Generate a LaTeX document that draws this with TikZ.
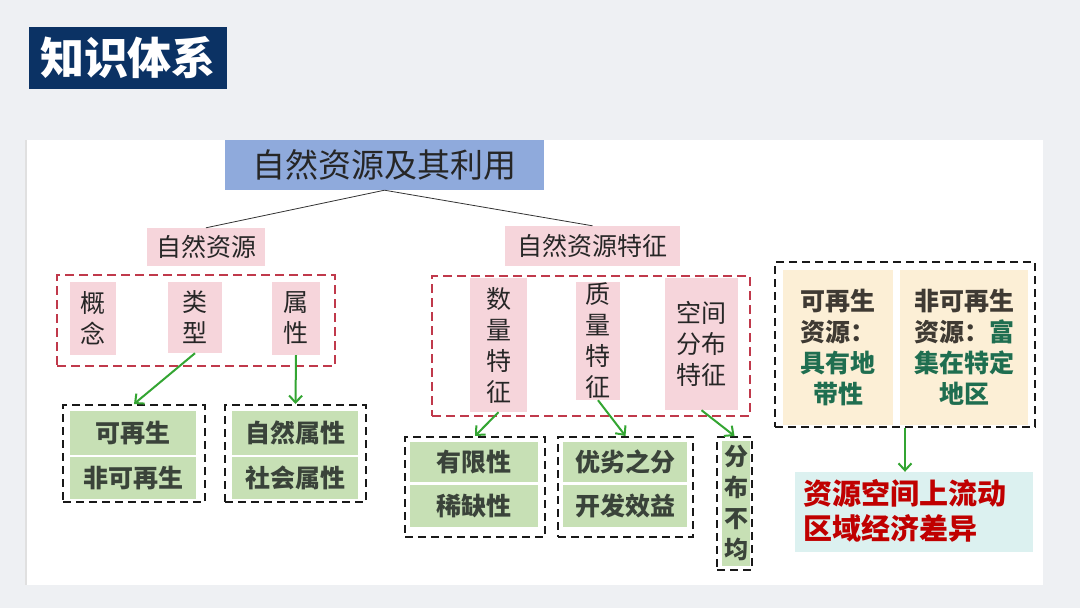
\documentclass[tikz,border=0pt]{standalone}
\usepackage{fontspec}
\setmainfont{Noto Sans CJK SC}
\usetikzlibrary{arrows.meta}
\definecolor{navy}{HTML}{0B3264}
\definecolor{tblue}{HTML}{8FAADC}
\definecolor{pinkc}{HTML}{F6D5DB}
\definecolor{greenc}{HTML}{C7E0B5}
\definecolor{yellowc}{HTML}{FCEFD6}
\definecolor{cyanc}{HTML}{DCF1F0}
\definecolor{redd}{HTML}{C0394B}
\definecolor{arrowg}{HTML}{33A532}
\definecolor{dgreen}{HTML}{1F6E50}
\definecolor{celltext}{HTML}{3A433A}
\definecolor{ytext}{HTML}{3F3A33}
\definecolor{redtext}{HTML}{C00000}
\definecolor{bgc}{HTML}{EEF0F3}
\tikzset{
  pinkbox/.style={fill=pinkc, inner sep=0pt, text=black!85, align=center},
  greenbox/.style={fill=greenc, inner sep=0pt, text=celltext, align=center, font=\bfseries\fontsize{25}{31}\selectfont},
  yellowbox/.style={fill=yellowc, inner sep=0pt, text=ytext, align=center, font=\bfseries\fontsize{25}{31}\selectfont},
  reddash/.style={draw=redd, line width=2pt, dash pattern=on 9pt off 5pt, inner sep=0pt},
  blackdash/.style={draw=black!90, line width=2pt, dash pattern=on 8pt off 5pt, inner sep=0pt},
  garrow/.style={draw=arrowg, line width=2pt, -{Straight Barb[length=7pt,width=13pt,line width=2pt]}},
  vtext/.style={font=\fontsize{25}{31}\selectfont},
}
\begin{document}
\begin{tikzpicture}[x=1pt,y=-1pt]
\path[use as bounding box, fill=bgc] (0,0) rectangle (1080,608);
\fill[white] (25,140) rectangle (1043,585);
\fill[black!12] (25,140) rectangle (27,585);
% title
\node[fill=navy, text=white, font=\bfseries\fontsize{44}{44}\selectfont, minimum width=198pt, minimum height=62pt, inner sep=0pt] (title) at (128,58) {知识体系};
% main
\node[fill=tblue, inner sep=0pt, minimum width=319pt, minimum height=50pt, font=\fontsize{33}{33}\selectfont, text=black!85] (main) at (384.5,165) {自然资源及其利用};
\node[pinkbox, minimum width=118pt, minimum height=38pt, font=\fontsize{25}{25}\selectfont] (n1) at (206,247) {自然资源};
\node[pinkbox, minimum width=175pt, minimum height=40pt, font=\fontsize{25}{25}\selectfont] (n2) at (592.5,246) {自然资源特征};
\draw[line width=0.8pt, black!80] (main.south) -- (n1.north);
\draw[line width=0.8pt, black!80] (main.south) -- (n2.north);
% left group
\node[reddash, minimum width=278pt, minimum height=91pt] (rb1) at (196,320.5) {};
\node[pinkbox, vtext, minimum width=46pt, minimum height=73pt] (gn) at (93,318.5) {概\\念};
\node[pinkbox, vtext, minimum width=54pt, minimum height=71pt] (lx) at (195,317.5) {类\\型};
\node[pinkbox, vtext, minimum width=48pt, minimum height=73pt] (sx) at (296,318.5) {属\\性};
\node[blackdash, minimum width=142pt, minimum height=97pt] (bb1) at (134,453.5) {};
\node[greenbox, minimum width=126pt, minimum height=44pt] (c11) at (133,433) {可再生};
\node[greenbox, minimum width=126pt, minimum height=42pt] (c12) at (133,478) {非可再生};
\node[blackdash, minimum width=141pt, minimum height=97pt] (bb2) at (295.5,453.5) {};
\node[greenbox, minimum width=126pt, minimum height=44pt] (c21) at (295,433) {自然属性};
\node[greenbox, minimum width=126pt, minimum height=42pt] (c22) at (295,478) {社会属性};
\draw[garrow] (lx.south) -- (bb1.north);
\draw[garrow] (sx.south) -- (bb2.north);
% middle group
\node[reddash, minimum width=318pt, minimum height=140pt] (rb2) at (591,346) {};
\node[pinkbox, vtext, minimum width=57pt, minimum height=134pt] (slt) at (498.5,345) {数\\量\\特\\征};
\node[pinkbox, vtext, minimum width=44pt, minimum height=118pt] (zlt) at (598,341) {质\\量\\特\\征};
\node[pinkbox, vtext, minimum width=73pt, minimum height=132pt] (kjt) at (701.5,344) {空间\\分布\\特征};
\node[blackdash, minimum width=140pt, minimum height=100pt] (bb3) at (475,487) {};
\node[greenbox, minimum width=128pt, minimum height=40pt] (c31) at (474,462) {有限性};
\node[greenbox, minimum width=128pt, minimum height=42pt] (c32) at (474,506) {稀缺性};
\node[blackdash, minimum width=135pt, minimum height=100pt] (bb4) at (625.5,487) {};
\node[greenbox, minimum width=124pt, minimum height=40pt] (c41) at (625,462) {优劣之分};
\node[greenbox, minimum width=124pt, minimum height=42pt] (c42) at (625,506) {开发效益};
\node[blackdash, minimum width=35pt, minimum height=133pt] (bb5) at (734.5,503.5) {};
\node[greenbox, minimum width=28pt, minimum height=125pt, font=\bfseries\fontsize{24}{31}\selectfont] (c51) at (736,503) {分\\布\\不\\均};
\draw[garrow] (slt.south) -- (bb3.north);
\draw[garrow] (zlt.south) -- (bb4.north);
\draw[garrow] (kjt.south) -- (bb5.north);
% right group
\node[blackdash, minimum width=260pt, minimum height=165pt] (bb6) at (905,344.5) {};
\node[yellowbox, minimum width=110pt, minimum height=155pt] (y1) at (838,347.5) {可再生\\资源：\\{\color{dgreen}具有地}\\{\color{dgreen}带性}};
\node[yellowbox, minimum width=128pt, minimum height=155pt] (y2) at (964,347.5) {非可再生\\资源：{\color{dgreen}富}\\{\color{dgreen}集在特定}\\{\color{dgreen}地区}};
\node[fill=cyanc, inner sep=0pt, minimum width=238pt, minimum height=80pt, text=redtext, font=\bfseries\fontsize{29}{35}\selectfont] (cy) at (914,512) {};
\node[text=redtext, inner sep=0pt, anchor=west, align=left, font=\bfseries\fontsize{29}{35}\selectfont] (cyt) at (803,511) {资源空间上流动\\区域经济差异};
\draw[garrow] (bb6.south) -- (bb6.south |- cy.north);
\end{tikzpicture}
\end{document}
